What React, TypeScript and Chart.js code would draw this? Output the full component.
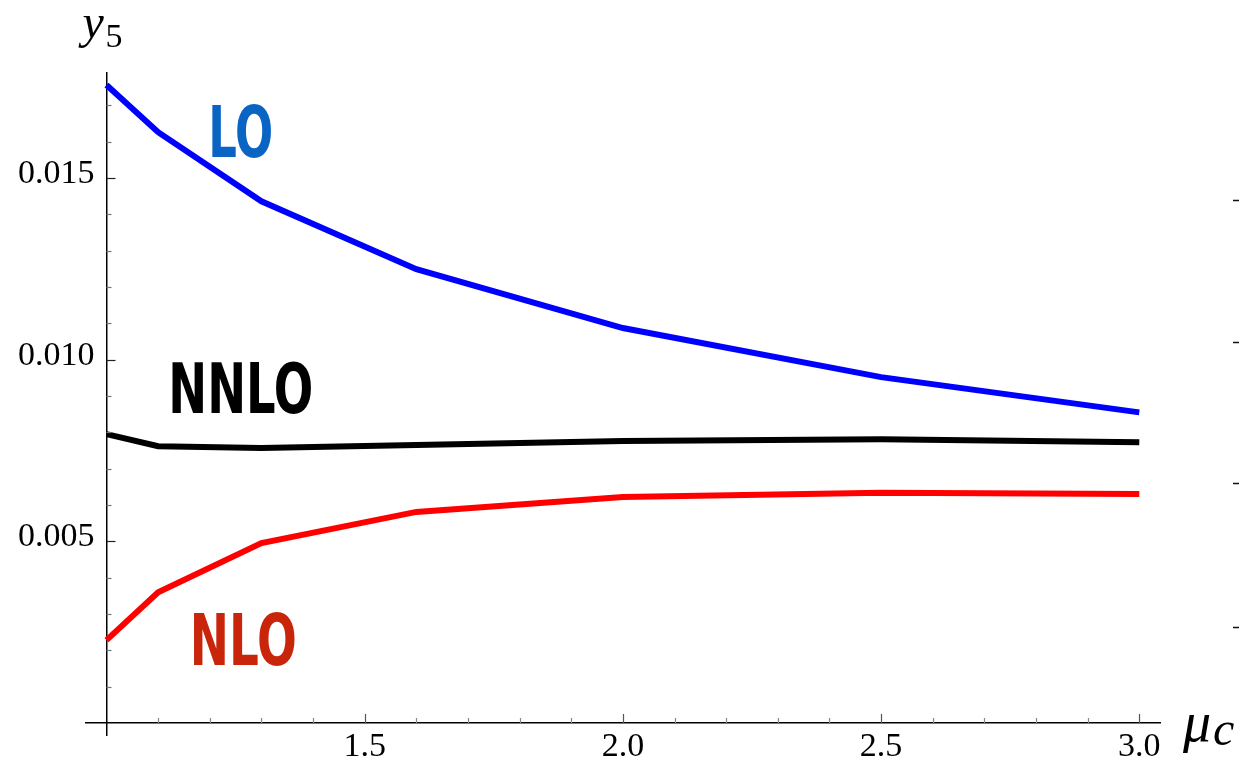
import React, { useEffect, useRef } from "react";
import { Chart, registerables } from "chart.js";

Chart.register(...registerables);

// Scale parameter mu_c
const MU = [1.0, 1.1, 1.3, 1.6, 2.0, 2.5, 3.0];
// y5 at successive orders
const LO = [0.01756, 0.01626, 0.01436, 0.01249, 0.01087, 0.00952, 0.00855];
const NNLO = [0.00795, 0.00762, 0.00757, 0.00765, 0.00776, 0.00781, 0.00773];
const NLO = [0.00228, 0.0036, 0.00495, 0.00581, 0.00622, 0.00634, 0.0063];

// Axis ticks
const X_MAJOR = [1.5, 2.0, 2.5, 3.0];
const X_MINOR = [1.1, 1.2, 1.3, 1.4, 1.6, 1.7, 1.8, 1.9, 2.1, 2.2, 2.3, 2.4, 2.6, 2.7, 2.8, 2.9];
const Y_MAJOR = [0.005, 0.01, 0.015];
const Y_MINOR = [
  0.001, 0.002, 0.003, 0.004, 0.006, 0.007, 0.008, 0.009, 0.011, 0.012, 0.013, 0.014, 0.016, 0.017,
];
// Tick marks of the neighbouring frame at the right edge
const EDGE_MARKS = [0.01439, 0.01049, 0.00661, 0.00264];

// Curve labels, anchored at their centres (mu_c, y5)
const LABEL_TEXT = ["LO", "NNLO", "NLO"];
const LABEL_MU = [1.26, 1.26, 1.265];
const LABEL_Y = [0.01629, 0.00923, 0.00231];

const SERIF = '"Liberation Serif", "Times New Roman", serif';
const TICK_FONT = 34;

const decorations = {
  id: "decorations",
  afterDatasetsDraw(chart: any) {
    const { ctx, scales } = chart;
    const xs = scales.x;
    const ys = scales.y;
    const x0 = xs.getPixelForValue(1.0);
    const y0 = ys.getPixelForValue(0);
    ctx.save();

    // inward ticks on the vertical axis
    ctx.lineWidth = 1.2;
    ctx.strokeStyle = "#222";
    for (const v of Y_MAJOR) {
      const p = Math.round(ys.getPixelForValue(v)) + 0.5;
      ctx.beginPath();
      ctx.moveTo(x0, p);
      ctx.lineTo(x0 + 9, p);
      ctx.stroke();
    }
    ctx.strokeStyle = "#777";
    for (const v of Y_MINOR) {
      const p = Math.round(ys.getPixelForValue(v)) + 0.5;
      ctx.beginPath();
      ctx.moveTo(x0, p);
      ctx.lineTo(x0 + 5, p);
      ctx.stroke();
    }
    // inward ticks on the horizontal axis
    ctx.strokeStyle = "#555";
    for (const v of X_MAJOR) {
      const p = Math.round(xs.getPixelForValue(v)) + 0.5;
      ctx.beginPath();
      ctx.moveTo(p, y0);
      ctx.lineTo(p, y0 - 9);
      ctx.stroke();
    }
    ctx.strokeStyle = "#888";
    for (const v of X_MINOR) {
      const p = Math.round(xs.getPixelForValue(v)) + 0.5;
      ctx.beginPath();
      ctx.moveTo(p, y0);
      ctx.lineTo(p, y0 - 5);
      ctx.stroke();
    }

    // right-edge marks
    ctx.strokeStyle = "#111";
    ctx.lineWidth = 1.5;
    for (const v of EDGE_MARKS) {
      const p = Math.round(ys.getPixelForValue(v)) + 0.5;
      ctx.beginPath();
      ctx.moveTo(chart.width - 6, p);
      ctx.lineTo(chart.width, p);
      ctx.stroke();
    }

    // vertical-axis tick labels
    ctx.fillStyle = "#000";
    ctx.font = `${TICK_FONT}px ${SERIF}`;
    ctx.textAlign = "right";
    ctx.textBaseline = "middle";
    for (const v of Y_MAJOR) {
      ctx.fillText(v.toFixed(3), x0 - 12, ys.getPixelForValue(v) - 4);
    }

    // axis titles
    ctx.textAlign = "left";
    ctx.textBaseline = "alphabetic";
    ctx.font = `italic 48px ${SERIF}`;
    ctx.fillText("y", x0 - 24, 38);
    ctx.font = `34px ${SERIF}`;
    ctx.fillText("5", x0 - 1, 47);

    const xEnd = xs.right;
    ctx.font = `italic 56px ${SERIF}`;
    ctx.fillText("\u03bc", xEnd + 23, 741);
    ctx.font = `italic 48px ${SERIF}`;
    ctx.fillText("c", xEnd + 53, 745);

    // curve labels
    const boxes = [
      { w: 65, h: 52, color: "#0A64C4" },
      { w: 145, h: 51, color: "#000000" },
      { w: 107, h: 52, color: "#C8250A" },
    ];
    LABEL_TEXT.forEach((t, i) => {
      const b = boxes[i];
      const cx = xs.getPixelForValue(LABEL_MU[i]);
      const cy = ys.getPixelForValue(LABEL_Y[i]);
      const size = b.h / 0.73;
      ctx.font = `bold ${size}px "DejaVu Sans Condensed", "DejaVu Sans", sans-serif`;
      const m = ctx.measureText(t).width;
      ctx.save();
      ctx.translate(cx, cy + b.h / 2);
      ctx.scale(b.w / m, 1);
      ctx.fillStyle = b.color;
      ctx.textAlign = "center";
      ctx.textBaseline = "alphabetic";
      ctx.fillText(t, 0, 0);
      ctx.restore();
    });

    ctx.restore();
  },
};

export default function App() {
  const ref = useRef<HTMLCanvasElement | null>(null);

  useEffect(() => {
    if (!ref.current) return;
    const line = (label: string, data: number[], color: string) => ({
      label,
      data: MU.map((m, i) => ({ x: m, y: data[i] })),
      borderColor: color,
      backgroundColor: color,
      borderWidth: 6,
      pointRadius: 0,
      tension: 0,
      fill: false,
    });
    const chart = new Chart(ref.current, {
      type: "line",
      data: {
        datasets: [
          line("LO", LO, "#0000FF"),
          line("NNLO", NNLO, "#000000"),
          line("NLO", NLO, "#FF0000"),
        ],
      },
      options: {
        animation: false,
        responsive: false,
        layout: { padding: { left: 86, top: 73, right: 79, bottom: 35 } },
        plugins: { legend: { display: false }, tooltip: { enabled: false } },
        scales: {
          x: {
            type: "linear",
            min: 0.9603,
            max: 3.0401,
            position: { y: 0 } as any,
            grid: { display: false, drawTicks: false },
            border: { display: true, color: "#000", width: 1.5 },
            afterBuildTicks: (s: any) => {
              s.ticks = X_MAJOR.map((v) => ({ value: v }));
            },
            ticks: {
              color: "#000",
              padding: 4,
              maxRotation: 0,
              font: { family: SERIF, size: TICK_FONT },
              callback: (v: any) => Number(v).toFixed(1),
            },
          },
          y: {
            type: "linear",
            min: -0.00033,
            max: 0.01789,
            position: { x: 1.0 } as any,
            grid: { display: false, drawTicks: false },
            border: { display: true, color: "#000", width: 1.5 },
            afterBuildTicks: (s: any) => {
              s.ticks = Y_MAJOR.map((v) => ({ value: v }));
            },
            ticks: { display: false },
          },
        },
      },
      plugins: [decorations],
    });
    return () => chart.destroy();
  }, []);

  return (
    <canvas
      ref={ref}
      width={1239}
      height={770}
      style={{ position: "absolute", left: 0, top: 0, display: "block" }}
    />
  );
}
